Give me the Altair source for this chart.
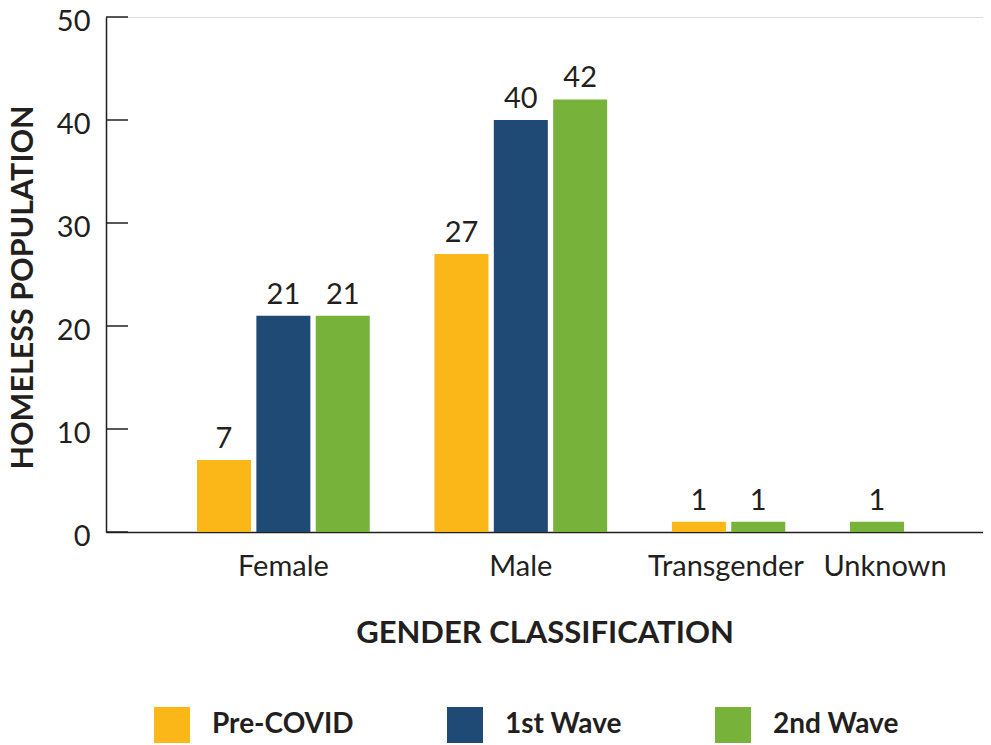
import altair as alt
import pandas as pd

# ---- data ----
genders = ["Female", "Male", "Transgender", "Unknown"]
series = ["Pre-COVID", "1st Wave", "2nd Wave"]
pre_covid = [7, 27, 1, None]
first_wave = [21, 40, None, None]
second_wave = [21, 42, 1, 1]
y_ticks = [0, 10, 20, 30, 40, 50]
colors = ["#FBB617", "#1F4A76", "#77B23B"]

values = {"Pre-COVID": pre_covid, "1st Wave": first_wave, "2nd Wave": second_wave}

FONT = "Lato"
INK = "#231F20"

rows, slots, label_for = [], ["lead"], {}
for gi, g in enumerate(genders):
    present = [s for s in series if values[s][gi] is not None]
    keys = [f"{g}|{s}" for s in present]
    for s, k in zip(present, keys):
        rows.append({"gender": g, "series": s, "slot": k, "value": values[s][gi]})
    slots.extend(keys)
    label_for[keys[(len(keys) - 1) // 2]] = g
    if gi < len(genders) - 1:
        slots.append(f"gap{gi}")
slots.append("trail")

df = pd.DataFrame(rows)
ticks_df = pd.DataFrame({"value": y_ticks})

label_expr = "".join(f"datum.value == '{k}' ? '{v}' : " for k, v in label_for.items()) + "''"
# label nudges (pixels) so each name sits where the reference puts it
slot_of = {v: k for k, v in label_for.items()}
offset_expr = (
    f"datum.value == '{slot_of['Transgender']}' ? 27 : "
    f"datum.value == '{slot_of['Unknown']}' ? 8 : 0"
)

x_scale = alt.Scale(domain=slots, paddingInner=0.09, paddingOuter=0.432, align=0.617)
y_scale = alt.Scale(domain=[0, 50], nice=False)

x_enc = alt.X(
    "slot:N",
    scale=x_scale,
    title="GENDER CLASSIFICATION",
    axis=alt.Axis(
        domain=True, domainColor=INK, domainWidth=1.5,
        ticks=False, grid=False,
        labelExpr=label_expr,
        labelOffset=alt.ExprRef(offset_expr),
        labelAngle=0, labelOverlap=False,
        labelFont=FONT, labelFontSize=29, labelColor=INK, labelPadding=20,
        titleFont=FONT, titleFontSize=31, titleFontWeight="bold", titleColor=INK,
        titlePadding=37,
    ),
)
y_enc = alt.Y(
    "value:Q",
    scale=y_scale,
    title="HOMELESS POPULATION",
    axis=alt.Axis(
        values=y_ticks, domain=True, domainColor=INK, domainWidth=1.5,
        ticks=False, grid=False,
        labelFont=FONT, labelFontSize=29, labelColor=INK, labelPadding=16,
        labelOffset=4,
        titleFont=FONT, titleFontSize=30.5, titleFontWeight="bold", titleColor=INK,
        titlePadding=18, titleY=270,
    ),
)

bars = alt.Chart(df).mark_bar().encode(
    x=x_enc,
    y=y_enc,
    color=alt.Color(
        "series:N",
        scale=alt.Scale(domain=series, range=colors),
        legend=alt.Legend(
            title=None, orient="none", direction="horizontal",
            legendX=48, legendY=690,
            symbolType="square", symbolSize=1296, symbolStrokeWidth=0,
            labelFont=FONT, labelFontSize=28, labelFontWeight="bold", labelColor=INK,
            labelOffset=22, columnPadding=93, padding=0,
        ),
    ),
)

labels = alt.Chart(df).mark_text(
    dy=-12, baseline="alphabetic", font=FONT, fontSize=29, color=INK
).encode(x=x_enc, y=y_enc, text="value:Q")

tick_marks = alt.Chart(ticks_df).mark_rule(color=INK, strokeWidth=1.5).encode(
    y=y_enc, x=alt.value(0), x2=alt.value(22)
)

chart = alt.layer(bars, labels, tick_marks).properties(
    width=877, height=515,
    autosize="none",
    padding={"left": 98, "top": 9, "right": 0, "bottom": 213},
).configure_view(stroke=None).configure(background="white")

chart.save("out.html", embed_options={"renderer": "svg", "actions": False})
